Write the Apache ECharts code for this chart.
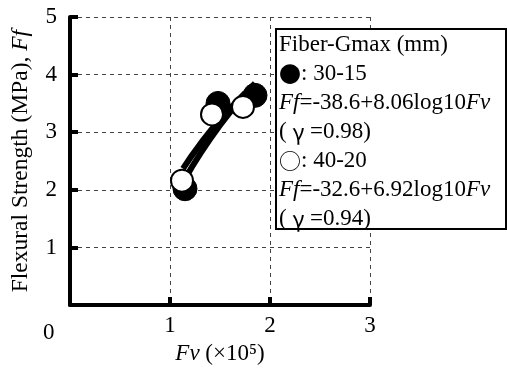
<!DOCTYPE html>
<html>
<head>
<meta charset="utf-8">
<script src="https://cdn.jsdelivr.net/npm/echarts@6/dist/echarts.min.js"></script>
<style>
  html, body { margin: 0; padding: 0; background: #fff; }
  #chart { width: 507px; height: 370px; }
</style>
</head>
<body>
<div id="chart"></div>
<script>
// points: [Fv (x1e5), Ff (MPa)]
var filled3015 = [[1.15, 2.02], [1.48, 3.50], [1.85, 3.64]];
var open4020 = [[1.12, 2.16], [1.42, 3.31], [1.73, 3.44]];
// regression curves, estimated along the drawn band
var fit3015 = [[1.15, 2.19], [1.3, 2.62], [1.5, 3.12], [1.7, 3.56], [1.85, 3.85]];
var fit4020 = [[1.13, 2.37], [1.3, 2.79], [1.5, 3.22], [1.75, 3.68]];
var xTicks = [0, 1, 2, 3];
var yTicks = [0, 1, 2, 3, 4, 5];

var serif = "'Liberation Serif', 'DejaVu Serif', serif";
var cjk = "'Noto Sans CJK JP', sans-serif";
var myChart = echarts.init(document.getElementById('chart'));

var legendText = [
  'Fiber-Gmax (mm)',
  '{c|●}: 30-15',
  '{i|Ff}=-38.6+8.06log10{i|Fv}',
  '( {c|γ} =0.98)',
  '{c|○}: 40-20',
  '{i|Ff}=-32.6+6.92log10{i|Fv}',
  '( {c|γ} =0.94)'
].join('\n');

var option = {
  animation: false,
  grid: { left: 70, right: 137, top: 17, bottom: 55 },
  xAxis: {
    type: 'value',
    min: xTicks[0], max: xTicks[xTicks.length - 1], interval: 1,
    name: '{i|Fv} (×10⁵)',
    nameLocation: 'middle',
    nameGap: 30,
    nameTextStyle: {
      fontFamily: serif, fontSize: 23, color: '#000',
      rich: {
        i: { fontFamily: serif, fontStyle: 'italic', fontSize: 23, color: '#000' }
      }
    },
    axisLine: { lineStyle: { color: '#000', width: 4 } },
    axisTick: { inside: true, length: 8, lineStyle: { color: '#000', width: 4 } },
    axisLabel: {
      fontFamily: serif, fontSize: 23, color: '#000', margin: 9,
      formatter: function (v) { return v === 0 ? '' : String(v); }
    },
    splitLine: { show: true, lineStyle: { color: '#444', width: 1, type: [4, 4] } }
  },
  yAxis: {
    type: 'value',
    min: yTicks[0], max: yTicks[yTicks.length - 1], interval: 1,
    name: 'Flexural Strength (MPa), {i|Ff}',
    nameLocation: 'middle',
    nameGap: 37,
    nameTextStyle: {
      fontFamily: serif, fontSize: 23.5, color: '#000',
      rich: { i: { fontFamily: serif, fontStyle: 'italic', fontSize: 23.5, color: '#000' } }
    },
    axisLine: { show: true, lineStyle: { color: '#000', width: 4 } },
    axisTick: { show: true, inside: true, length: 8, lineStyle: { color: '#000', width: 4 } },
    axisLabel: {
      fontFamily: serif, fontSize: 23, color: '#000', margin: 13,
      formatter: function (v) { return v === 0 ? '' : String(v); }
    },
    splitLine: { show: true, lineStyle: { color: '#444', width: 1, type: [4, 4] } }
  },
  series: [
    {
      name: '30-15', type: 'scatter', data: filled3015, z: 2,
      symbol: 'circle', symbolSize: 24,
      itemStyle: { color: '#000', borderColor: '#000', borderWidth: 1, opacity: 1 }
    },
    {
      name: 'fit 30-15', type: 'line', data: fit3015, z: 3,
      showSymbol: false, smooth: true,
      lineStyle: { color: '#000', width: 6 }
    },
    {
      name: 'fit 40-20', type: 'line', data: fit4020, z: 3,
      showSymbol: false, smooth: true,
      lineStyle: { color: '#000', width: 6 }
    },
    {
      name: '40-20', type: 'scatter', data: open4020, z: 4,
      symbol: 'circle', symbolSize: 22,
      itemStyle: { color: '#fff', borderColor: '#000', borderWidth: 2, opacity: 1 }
    }
  ],
  graphic: [
    {
      type: 'text', left: 43, top: 321, z: 10,
      style: { text: '0', font: '23px ' + serif, fill: '#000' }
    },
    {
      type: 'rect', left: 275, top: 28, z: 10,
      shape: { width: 230, height: 200 },
      style: { fill: '#fff', stroke: '#000', lineWidth: 2 }
    },
    {
      type: 'text', left: 279, top: 30, z: 11,
      style: {
        text: legendText,
        font: '23px ' + serif, fill: '#000', lineHeight: 29,
        rich: {
          i: { font: 'italic 23px ' + serif, fill: '#000', lineHeight: 29 },
          c: { font: '22px ' + cjk, fill: '#000', lineHeight: 29 }
        }
      }
    }
  ]
};
myChart.setOption(option);
</script>
</body>
</html>
